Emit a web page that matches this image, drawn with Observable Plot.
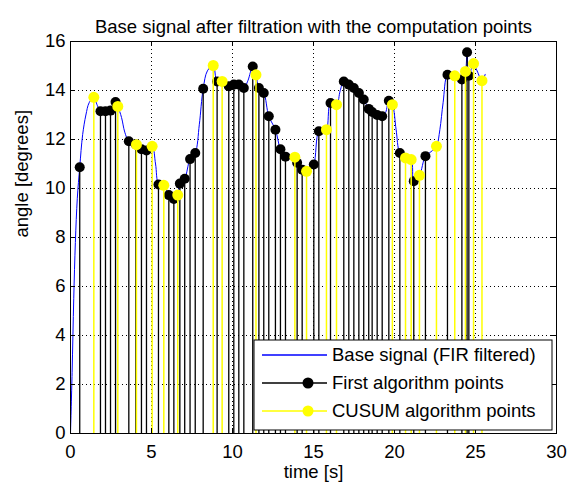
<!DOCTYPE html>
<html>
<head>
<meta charset="utf-8">
<script src="https://cdn.jsdelivr.net/npm/d3@7"></script>
<script src="https://cdn.jsdelivr.net/npm/@observablehq/plot@0.6"></script>
<style>
  html, body { margin: 0; padding: 0; background: #fff; }
  svg { font-family: "Liberation Sans", Arial, sans-serif; }
</style>
</head>
<body>
<div id="chart"></div>
<script>
// Base signal (FIR filtered)
const signalT = [0, 0.1, 0.2, 0.3, 0.42, 0.57, 0.75, 0.95, 1.15, 1.44, 1.65, 1.85, 2.16, 2.47, 2.78, 2.92, 3.15, 3.35, 3.6, 4.07, 4.38, 4.69, 5.04, 5.25, 5.45, 5.76, 6.07, 6.38, 6.62, 6.75, 7.05, 7.38, 7.7, 7.95, 8.19, 8.45, 8.81, 9.05, 9.36, 9.77, 10.08, 10.39, 10.7, 10.95, 11.25, 11.45, 11.63, 11.93, 12.24, 12.65, 12.96, 13.27, 13.6, 13.85, 13.99, 14.3, 14.57, 14.8, 15.02, 15.33, 15.6, 15.8, 16.05, 16.42, 16.65, 16.87, 17.18, 17.49, 17.8, 18.1, 18.41, 18.62, 18.93, 19.24, 19.45, 19.65, 19.87, 20.1, 20.33, 20.68, 21.03, 21.19, 21.54, 21.91, 22.25, 22.59, 22.8, 23.0, 23.27, 23.5, 23.72, 24.16, 24.38, 24.48, 24.59, 24.88, 25.1, 25.4, 25.6];
const signalY = [0, 2.5, 5.5, 7.8, 9.6, 10.87, 12.2, 13.0, 13.5, 13.72, 13.4, 13.15, 13.15, 13.18, 13.53, 13.35, 12.9, 12.3, 11.93, 11.79, 11.6, 11.55, 11.72, 11.0, 10.16, 10.13, 9.73, 9.57, 9.73, 10.2, 10.4, 11.2, 11.45, 12.6, 14.07, 14.8, 15.02, 14.37, 14.37, 14.17, 14.24, 14.24, 14.1, 14.4, 14.98, 14.64, 14.1, 13.9, 12.95, 12.4, 11.6, 11.3, 11.3, 11.28, 11.05, 10.77, 10.7, 10.8, 10.98, 12.34, 12.4, 12.4, 13.49, 13.42, 14.0, 14.37, 14.24, 14.1, 13.9, 13.63, 13.25, 13.12, 13.0, 12.95, 13.1, 13.58, 13.42, 12.4, 11.45, 11.25, 11.18, 10.3, 10.54, 11.32, 11.5, 11.72, 12.4, 13.5, 14.64, 14.62, 14.6, 14.45, 14.78, 15.56, 14.6, 15.1, 14.8, 14.4, 14.66];

// First algorithm points
const firstT = [0.57, 1.85, 2.16, 2.47, 2.78, 3.6, 4.03, 4.38, 4.69, 5.43, 6.07, 6.38, 6.75, 7.05, 7.38, 7.7, 8.19, 9.05, 9.77, 10.08, 10.39, 10.7, 11.25, 11.63, 11.93, 12.24, 12.65, 12.96, 13.27, 13.99, 14.3, 15.02, 15.33, 16.05, 16.87, 17.18, 17.49, 17.8, 18.1, 18.41, 18.62, 18.93, 19.24, 19.65, 20.33, 21.19, 21.91, 23.27, 24.16, 24.48, 24.59];
const firstY = [10.87, 13.15, 13.15, 13.18, 13.53, 11.93, 11.8, 11.6, 11.55, 10.16, 9.73, 9.57, 10.2, 10.4, 11.2, 11.45, 14.07, 14.37, 14.17, 14.24, 14.24, 14.1, 14.98, 14.1, 13.9, 12.95, 12.4, 11.6, 11.3, 11.05, 10.77, 10.98, 12.34, 13.49, 14.37, 14.24, 14.1, 13.9, 13.63, 13.25, 13.12, 13.0, 12.95, 13.58, 11.45, 10.3, 11.32, 14.64, 14.45, 15.56, 14.6];

// CUSUM algorithm points
const cusumT = [1.44, 2.92, 4.07, 5.04, 5.76, 6.62, 8.81, 9.36, 11.45, 13.85, 14.57, 15.8, 16.42, 19.87, 20.68, 21.03, 21.54, 22.59, 23.72, 24.38, 24.88, 25.4];
const cusumY = [13.72, 13.35, 11.79, 11.72, 10.13, 9.73, 15.02, 14.37, 14.64, 11.28, 10.7, 12.4, 13.42, 13.42, 11.25, 11.18, 10.54, 11.72, 14.6, 14.78, 15.1, 14.4];

const xTicks = [0, 5, 10, 15, 20, 25, 30];
const yTicks = [0, 2, 4, 6, 8, 10, 12, 14, 16];

const titleText = "Base signal after filtration with the computation points";
const xLabel = "time [s]";
const yLabel = "angle [degrees]";
const legendLabels = ["Base signal (FIR filtered)", "First algorithm points", "CUSUM algorithm points"];

const signal = signalT.map((t, i) => ({t, y: signalY[i]}));
const first = firstT.map((t, i) => ({t, y: firstY[i]}));
const cusum = cusumT.map((t, i) => ({t, y: cusumY[i]}));

const W = 573, H = 487;
const mL = 70, mR = 17, mT = 41, mB = 54;
const frameH = H - mT - mB;
const FS = 18.5;
const YEL = "#ffff00";

const plot = Plot.plot({
  width: W,
  height: H,
  marginLeft: mL,
  marginRight: mR,
  marginTop: mT,
  marginBottom: mB,
  style: {fontFamily: '"Liberation Sans", Arial, sans-serif', fontSize: FS + "px", background: "#fff", color: "#000", overflow: "visible"},
  x: {domain: [0, 30]},
  y: {domain: [0, 16]},
  marks: [
    Plot.gridX(xTicks, {stroke: "#000", strokeOpacity: 1, strokeWidth: 1, strokeDasharray: "1,3"}),
    Plot.gridY(yTicks, {stroke: "#000", strokeOpacity: 1, strokeWidth: 1, strokeDasharray: "1,3"}),
    Plot.line(signal, {x: "t", y: "y", stroke: "#0000ff", strokeWidth: 1, curve: "catmull-rom"}),
    Plot.ruleX(first, {x: "t", y1: 0, y2: "y", stroke: "#000", strokeWidth: 1.3}),
    Plot.dot(first, {x: "t", y: "y", r: 5, fill: "#000", stroke: "none"}),
    Plot.ruleX(cusum, {x: "t", y1: 0, y2: "y", stroke: YEL, strokeWidth: 1.5}),
    Plot.dot(cusum, {x: "t", y: "y", r: 5.5, fill: YEL, stroke: "none"}),
    // inward ticks
    Plot.ruleX(xTicks, {x: d => d, stroke: "#000", insetTop: frameH - 5}),
    Plot.ruleX(xTicks, {x: d => d, stroke: "#000", insetBottom: frameH - 5}),
    Plot.ruleY(yTicks, {y: d => d, stroke: "#000", insetRight: (W - mL - mR) - 5}),
    Plot.ruleY(yTicks, {y: d => d, stroke: "#000", insetLeft: (W - mL - mR) - 5}),
    Plot.frame({stroke: "#000", strokeWidth: 1}),
    Plot.axisX(xTicks, {tickSize: 0, tickPadding: 11, fontSize: FS, label: null}),
    Plot.axisY(yTicks, {tickSize: 0, tickPadding: 5, fontSize: FS, label: null}),
    Plot.text([xLabel], {frameAnchor: "bottom", dy: 44, fontSize: FS, text: d => d}),
    Plot.text([yLabel], {frameAnchor: "left", dx: -48, rotate: -90, fontSize: FS, text: d => d}),
    Plot.text([titleText], {frameAnchor: "top", dy: -22, fontSize: FS, text: d => d})
  ]
});

document.getElementById("chart").appendChild(plot);

// Legend (MATLAB style box, lower right)
const svg = d3.select(plot);
const lg = svg.append("g").attr("text-anchor", "start");
const bx = 254, by = 340, bw = 298, bh = 90;
lg.append("rect").attr("x", bx).attr("y", by).attr("width", bw).attr("height", bh)
  .attr("fill", "#fff").attr("stroke", "#000").attr("stroke-width", 1);
const rows = [
  {label: legendLabels[0], color: "#0000ff", marker: false},
  {label: legendLabels[1], color: "#000", marker: true},
  {label: legendLabels[2], color: YEL, marker: true}
];
rows.forEach((r, i) => {
  const cy = by + 15 + i * 28;
  lg.append("line").attr("x1", bx + 8).attr("x2", bx + 73).attr("y1", cy).attr("y2", cy)
    .attr("stroke", r.color).attr("stroke-width", 1.3);
  if (r.marker) lg.append("circle").attr("cx", bx + 54).attr("cy", cy).attr("r", 5.5).attr("fill", r.color);
  lg.append("text").attr("x", bx + 78).attr("y", cy + 6).attr("font-size", FS)
    .attr("text-anchor", "start").attr("fill", "#000").text(r.label);
});
</script>
</body>
</html>
